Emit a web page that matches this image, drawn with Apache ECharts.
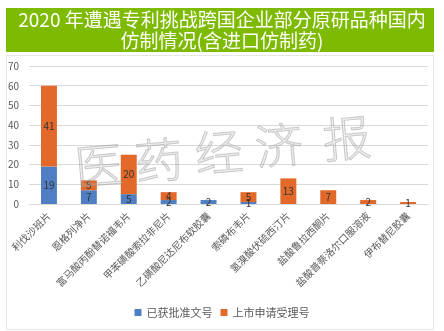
<!DOCTYPE html>
<html><head><meta charset="utf-8">
<script src="https://cdn.jsdelivr.net/npm/echarts@6/dist/echarts.min.js"></script>
<style>html,body{margin:0;padding:0;background:#fff}#c{width:444px;height:331px}</style>
</head><body><div id="c"></div>
<script>
var categories = ['利伐沙班片','恩格列净片','富马酸丙酚替诺福韦片','甲苯磺酸索拉非尼片','乙磺酸尼达尼布软胶囊','索磷布韦片','氢溴酸伏硫西汀片','盐酸鲁拉西酮片','盐酸普萘洛尔口服溶液','伊布替尼胶囊'];
var approved = [19, 7, 5, 2, 2, 1, 0, 0, 0, 0];
var accepted = [41, 5, 20, 4, 0, 5, 13, 7, 2, 1];
var yTicks = [0, 10, 20, 30, 40, 50, 60, 70];
var titleLines = ['2020 年遭遇专利挑战跨国企业部分原研品种国内', '仿制情况(含进口仿制药)'];
var watermark = ['医', '药', '经', '济', '报'];

var chart = echarts.init(document.getElementById('c'), null, {renderer: 'canvas'});
var font = '"Noto Sans CJK SC", "Noto Sans", sans-serif';
var lbl = {show: true, position: 'inside', color: '#333', fontSize: 10, fontFamily: font,
  formatter: function (p) { return p.value ? p.value : ''; }};
var wmPos = [[101, 189], [161, 184], [221, 176], [281, 169], [349, 162]];
var wmGraphics = watermark.map(function (ch, i) {
  return {type: 'text', x: wmPos[i][0], y: wmPos[i][1], rotation: 0.09, z: 100,
    style: {text: ch, fill: 'rgba(190,190,190,0.25)', stroke: 'rgba(150,150,150,0.5)', lineWidth: 1,
      fontSize: 48, fontFamily: '"Noto Sans CJK SC", sans-serif', fontWeight: 300,
      align: 'center', verticalAlign: 'bottom'}};
});
chart.setOption({
  animation: false,
  backgroundColor: '#fff',
  graphic: [
    {type: 'rect', shape: {x: 6, y: 8, width: 428, height: 44}, style: {fill: '#7dba00'}, z: 0},
    {type: 'text', left: 'center', top: 10, style: {text: titleLines[0], fill: '#fff', fontSize: 19, fontFamily: font}},
    {type: 'text', left: 'center', top: 31, style: {text: titleLines[1], fill: '#fff', fontSize: 19, fontFamily: font}},
    {type: 'rect', shape: {x: 6.5, y: 55.5, width: 427, height: 274}, style: {fill: 'none', stroke: '#e6e6e6', lineWidth: 1}, z: 0}
  ].concat(wmGraphics),
  grid: {left: 29, right: 16, top: 66, bottom: 127},
  legend: {
    bottom: 8, left: 'center', itemWidth: 7, itemHeight: 7, itemGap: 8,
    textStyle: {color: '#595959', fontSize: 11, fontFamily: font},
    data: [{name: '已获批准文号', icon: 'rect'}, {name: '上市申请受理号', icon: 'rect'}]
  },
  xAxis: {
    type: 'category', data: categories,
    axisLine: {lineStyle: {color: '#d9d9d9'}}, axisTick: {show: false},
    axisLabel: {rotate: 45, color: '#595959', fontSize: 10, fontFamily: font, interval: 0, margin: 10}
  },
  yAxis: {
    type: 'value', min: 0, max: 70, interval: 10,
    axisLine: {show: false}, axisTick: {show: false},
    axisLabel: {color: '#595959', fontSize: 10, fontFamily: font, margin: 10,
      formatter: function (v) { return yTicks.indexOf(v) >= 0 ? v : ''; }},
    splitLine: {lineStyle: {color: '#d9d9d9'}}
  },
  series: [
    {name: '已获批准文号', type: 'bar', stack: 's', data: approved, barWidth: '40%', itemStyle: {color: '#4f7fc2'}, label: lbl},
    {name: '上市申请受理号', type: 'bar', stack: 's', data: accepted, barWidth: '40%', itemStyle: {color: '#e2692a'}, label: lbl}
  ]
});
</script></body></html>
